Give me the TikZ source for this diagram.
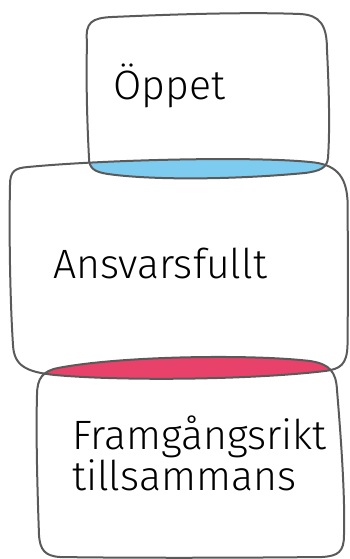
\documentclass[tikz,border=0pt]{standalone}
\usepackage{fontspec}
\setmainfont{Fira Sans Light}
\definecolor{edge}{HTML}{5A5A5A}
\definecolor{lensblue}{HTML}{7DCCEF}
\definecolor{lensred}{HTML}{E9426A}
\tikzset{
  outline/.style={draw=edge, line width=2pt, line join=round},
  label/.style={anchor=base west, inner sep=0pt, font=\fontsize{41}{38}\selectfont, align=left}
}
\def\boxA{(87,42) .. controls (85,22) and (92,18) .. (112,17)
  .. controls (180,14) and (250,12) .. (300,14)
  .. controls (320,15) and (327,25) .. (327,50)
  .. controls (329,90) and (330,130) .. (328,158)
  .. controls (327,168) and (320,171) .. (305,173)
  .. controls (230,180) and (150,180) .. (108,174)
  .. controls (94,172) and (89,168) .. (89,158)
  .. controls (87,120) and (86,80) .. (87,42) -- cycle}
\def\boxB{(10,185) .. controls (10,171) and (15,168) .. (28,167)
  .. controls (100,160) and (250,156) .. (310,162)
  .. controls (335,164) and (346,175) .. (347.5,200)
  .. controls (348,250) and (348,300) .. (347.5,345)
  .. controls (347,365) and (340,369) .. (325,371)
  .. controls (250,380) and (120,381) .. (55,375)
  .. controls (25,372) and (14,365) .. (13,345)
  .. controls (10,300) and (9,230) .. (10,185) -- cycle}
\def\boxC{(37,395) .. controls (37,378) and (43,371) .. (58,368)
  .. controls (120,356) and (250,354) .. (310,361)
  .. controls (330,364) and (336,372) .. (337,390)
  .. controls (342,450) and (345,500) .. (344,535)
  .. controls (344,552) and (338,556) .. (322,557)
  .. controls (230,558) and (120,558) .. (60,557)
  .. controls (45,556) and (40,550) .. (39,535)
  .. controls (37,480) and (36,430) .. (37,395) -- cycle}
\begin{document}
\begin{tikzpicture}[x=1pt,y=-1pt]
\useasboundingbox (0,0) rectangle (349,559);
\begin{scope}
  \clip \boxA;
  \fill[lensblue] \boxB;
\end{scope}
\begin{scope}
  \clip \boxB;
  \fill[lensred] \boxC;
\end{scope}
\draw[outline] \boxA;
\draw[outline] \boxB;
\draw[outline] \boxC;
\node[label] (t1) at (113,100) {Öppet};
\node[label] (t2) at (53,278) {Ansvarsfullt};
\node[label] (t3) at (72,490) {Framgångsrikt\\tillsammans};
\end{tikzpicture}
\end{document}
